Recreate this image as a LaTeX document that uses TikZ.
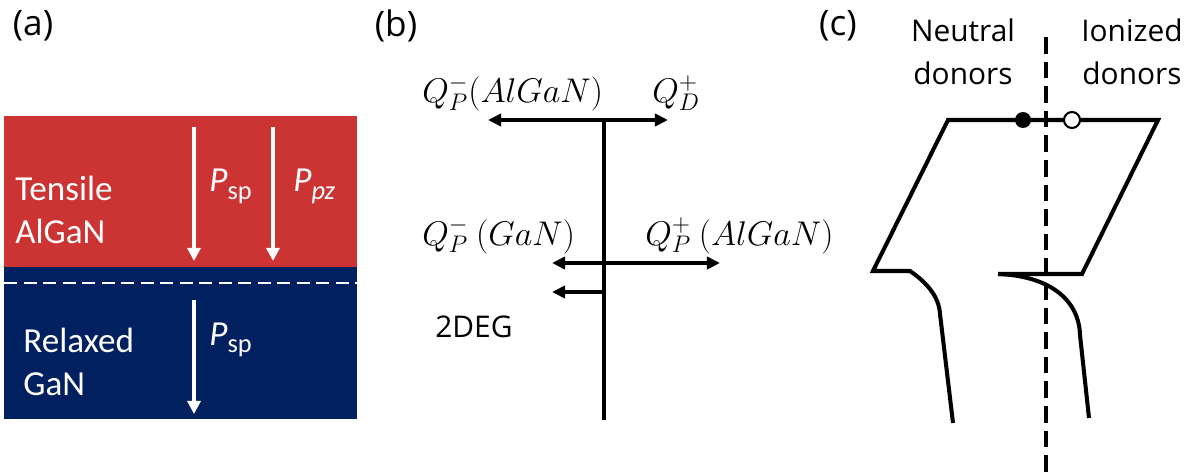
\RequirePackage{fix-cm}
\documentclass[tikz,border=0pt]{standalone}
\usepackage{fontspec}
\setmainfont{Carlito}
\newfontfamily\panelfont{Open Sans}
\usetikzlibrary{arrows.meta}
\definecolor{tensilered}{RGB}{204,51,51}
\definecolor{relaxedblue}{RGB}{0,32,96}
\newcommand\polsub[2]{{\itshape #1}\raisebox{-4pt}{\fontsize{15}{15}\selectfont #2}}

\begin{document}
\begin{tikzpicture}[
        x=0.02cm, y=-0.02cm,
        % Stiller
        panellabel/.style={font=\panelfont\fontsize{20}{24}\selectfont, inner sep=0pt},
        layertext/.style={text=white, font=\fontsize{20}{24.4}\selectfont, align=left, inner sep=0pt},
        pollabel/.style={text=white, font=\fontsize{20}{24}\selectfont, inner sep=0pt, anchor=base west},
        polarrow/.style={white, line width=2.3pt, -{Triangle[width=7.5pt,length=7.5pt]}},
        chargeline/.style={line width=2.3pt},
        chargearrow/.style={line width=2.3pt, -{Triangle[width=7pt,length=7.5pt]}},
        chargelabel/.style={font=\fontsize{19.5}{23}\selectfont, inner sep=0pt, anchor=base west},
        donortext/.style={font=\panelfont\fontsize{17}{24.4}\selectfont, align=center, inner sep=0pt},
        bandline/.style={line width=2.3pt, line join=miter},
        fermiline/.style={line width=2.3pt, dash pattern=on 9.5pt off 4.5pt}
    ]
        \useasboundingbox (0,0) rectangle (1194,473);

        % (a) Katmanlar
        \node[panellabel] (labA) at (33,26) {(a)};
        \fill[tensilered] (4,116) rectangle (357,267);
        \fill[relaxedblue] (4,267) rectangle (357,419);
        \coordinate (ifL) at (4,283);
        \coordinate (ifR) at (357,283);
        \draw[white, line width=1.7pt, dash pattern=on 7.4pt off 3.7pt] (ifL) -- (ifR);

        \node[layertext, anchor=north west] (tensile) at (15,176) {Tensile\\AlGaN};
        \node[layertext, anchor=north west] (relaxed) at (23,328) {Relaxed\\GaN};

        \coordinate (spTop) at (194,127);
        \coordinate (spBot) at (194,261);
        \coordinate (pzTop) at (273,127);
        \coordinate (pzBot) at (273,261);
        \coordinate (ganTop) at (194,300);
        \coordinate (ganBot) at (194,414);
        \draw[polarrow] (spTop) -- (spBot);
        \draw[polarrow] (pzTop) -- (pzBot);
        \draw[polarrow] (ganTop) -- (ganBot);
        \node[pollabel] (psp) at (209,192) {\polsub{P}{sp}};
        \node[pollabel] (ppz) at (293,192) {\polsub{P}{\itshape pz}};
        \node[pollabel] (pspgan) at (209,345) {\polsub{P}{sp}};

        % (b) Yuk dagilimi
        \node[panellabel] (labB) at (396,26) {(b)};
        \coordinate (axTop) at (604,120);
        \coordinate (axBot) at (604,420);
        \coordinate (qdL) at (488,120);
        \coordinate (qdR) at (668,120);
        \coordinate (qpL) at (552,263);
        \coordinate (qpR) at (720,263);
        \coordinate (egMid) at (604,292);
        \coordinate (egL) at (552,292);
        \draw[chargeline] (axTop) -- (axBot);
        \draw[chargearrow] (axTop) -- (qdL);
        \draw[chargearrow] (axTop) -- (qdR);
        \draw[chargearrow] (axTop |- qpL) -- (qpL);
        \draw[chargearrow] (axTop |- qpL) -- (qpR);
        \draw[chargearrow] (egMid) -- (egL);

        \node[chargelabel] (qpAl) at (422,103) {$Q_P^-(AlGaN)$};
        \node[chargelabel] (qD) at (652,103) {$Q_D^+$};
        \node[chargelabel] (qpGaN) at (422,245) {$Q_P^-\ (GaN)$};
        \node[chargelabel] (qpAl2) at (645,245) {$Q_P^+\ (AlGaN)$};
        \node[font=\panelfont\fontsize{17}{20}\selectfont, inner sep=0pt, anchor=base west] (deg) at (435,337) {2DEG};

        % (c) Bant diyagrami
        \node[panellabel] (labC) at (838,26) {(c)};
        \node[donortext] (neutral) at (963,52) {Neutral\\donors};
        \node[donortext] (ionized) at (1132,52) {Ionized\\donors};

        \coordinate (dashTop) at (1046,37);
        \coordinate (dashBot) at (1046,473);
        \draw[fermiline] (dashTop) -- (dashBot);

        \draw[bandline] (998,274) -- (1082,274) -- (1158,120) -- (948,120) -- (873,271) -- (910,271)
            .. controls (926,282) and (939,296) .. (940,314) -- (953,423);
        \draw[bandline] (998,274) .. controls (1050,276) and (1079,300) .. (1080,335) -- (1089,418);

        \fill (1023,120) circle (8);
        \filldraw[fill=white, line width=1.2pt] (1072,120) circle (8);
    \end{tikzpicture}
\end{document}
